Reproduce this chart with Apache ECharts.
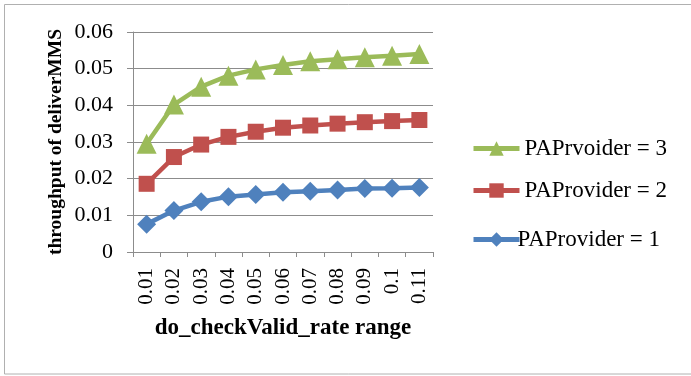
<!DOCTYPE html>
<html><head><meta charset="utf-8">
<script src="https://cdn.jsdelivr.net/npm/echarts@6/dist/echarts.min.js"></script>
<style>html,body{margin:0;padding:0;background:#fff}#c{width:691px;height:376px}</style>
</head><body><div id="c"></div>
<script>
const categories = ['0.01','0.02','0.03','0.04','0.05','0.06','0.07','0.08','0.09','0.1','0.11'];
const provider3 = [0.0295, 0.0402, 0.0451, 0.0481, 0.0498, 0.0510, 0.0520, 0.0526, 0.0531, 0.0535, 0.0540];
const provider2 = [0.0186, 0.0259, 0.0293, 0.0314, 0.0328, 0.0339, 0.0345, 0.0350, 0.0354, 0.0357, 0.0360];
const provider1 = [0.0076, 0.0113, 0.0137, 0.0151, 0.0157, 0.0163, 0.0166, 0.0169, 0.0173, 0.0174, 0.0176];
const seriesNames = ['PAPrvoider = 3', 'PAProvider = 2', 'PAProvider = 1'];

const font = '"Liberation Serif", "DejaVu Serif", serif';
const chart = echarts.init(document.getElementById('c'));
const legendBase = {orient:'vertical', itemWidth:46, itemHeight:18, itemGap:5, padding:0,
  lineStyle:{width:5},
  textStyle:{fontFamily:font, fontSize:23, color:'#000'}};
chart.setOption({
  animation:false,
  graphic:[{type:'rect', shape:{x:4.5, y:4.5, width:700, height:369.5},
    style:{fill:'none', stroke:'#b0b0b0', lineWidth:1}}],
  grid:{left:133, right:258, top:32, bottom:124},
  legend:[
    Object.assign({}, legendBase, {data:[seriesNames[0]], left:471, top:137}),
    Object.assign({}, legendBase, {data:[seriesNames[1]], left:471, top:179}),
    Object.assign({}, legendBase, {data:[seriesNames[2]], left:471, top:228,
      textStyle:{fontFamily:font, fontSize:23, color:'#000', padding:[0,0,0,-7]}})
  ],
  xAxis:{type:'category', data:categories, boundaryGap:true,
    name:'do_checkValid_rate range', nameLocation:'middle', nameGap:65,
    nameTextStyle:{fontFamily:font, fontSize:23, fontWeight:'bold', color:'#000'},
    axisLine:{lineStyle:{color:'#8c8c8c', width:1}},
    axisTick:{show:true, length:5, lineStyle:{color:'#8c8c8c'}},
    axisLabel:{rotate:90, interval:0, margin:16, fontFamily:font, fontSize:21, color:'#000'}},
  yAxis:{type:'value', min:0, max:0.06, interval:0.01,
    name:'throughput of deliverMMS', nameLocation:'middle', nameGap:67,
    nameTextStyle:{fontFamily:font, fontSize:19.5, fontWeight:'bold', color:'#000'},
    axisLine:{show:true, lineStyle:{color:'#8c8c8c', width:1}},
    axisTick:{show:true, length:6, lineStyle:{color:'#8c8c8c'}},
    splitLine:{lineStyle:{color:'#8c8c8c', width:1}},
    axisLabel:{margin:20, fontFamily:font, fontSize:22, color:'#000',
      formatter:v=>String(Math.round(v*100)/100)}},
  series:[
    {name:seriesNames[0], type:'line', data:provider3, symbol:'triangle', symbolSize:20,
      lineStyle:{color:'#9bbb59', width:4.5}, itemStyle:{color:'#9bbb59'}},
    {name:seriesNames[1], type:'line', data:provider2, symbol:'rect', symbolSize:16,
      lineStyle:{color:'#c0504d', width:4.5}, itemStyle:{color:'#c0504d'}},
    {name:seriesNames[2], type:'line', data:provider1, symbol:'diamond', symbolSize:19,
      lineStyle:{color:'#4f81bd', width:4.5}, itemStyle:{color:'#4f81bd'}}
  ]
});
</script></body></html>
